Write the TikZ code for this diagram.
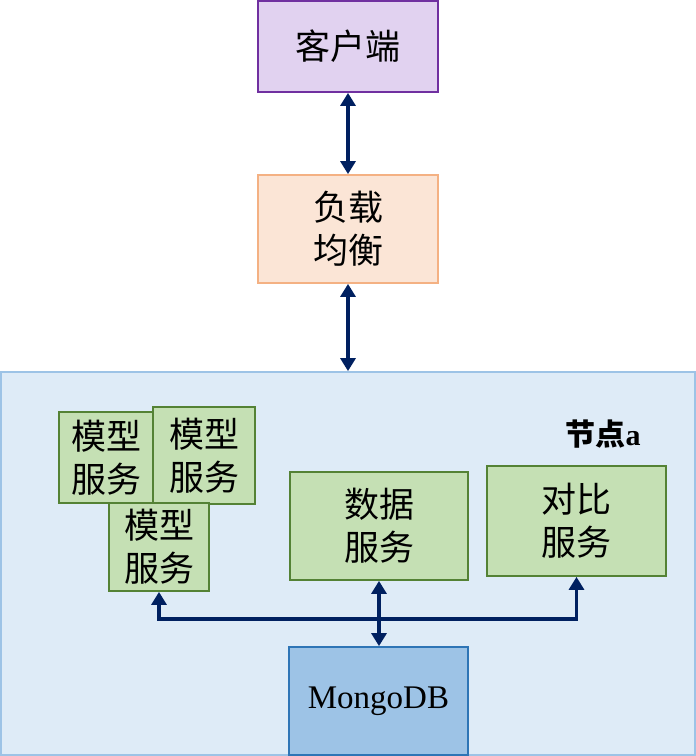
\documentclass[tikz,border=0pt]{standalone}
\usepackage{fontspec}
\setmainfont{Liberation Serif}
\newfontfamily\cjk{Noto Sans CJK SC}
\usetikzlibrary{arrows.meta}
\definecolor{clientfill}{HTML}{E1D2F0}
\definecolor{clientline}{HTML}{7030A0}
\definecolor{lbfill}{HTML}{FBE5D6}
\definecolor{lbline}{HTML}{F4B183}
\definecolor{nodefill}{HTML}{DEEBF7}
\definecolor{nodeline}{HTML}{9DC3E6}
\definecolor{svcfill}{HTML}{C5E0B4}
\definecolor{svcline}{HTML}{548235}
\definecolor{dbfill}{HTML}{9DC3E6}
\definecolor{dbline}{HTML}{2E75B6}
\definecolor{linkblue}{HTML}{002060}
\tikzset{
  box/.style={draw, line width=1.8pt, inner sep=0pt, align=center,
    font=\cjk\fontsize{35}{43}\selectfont},
  svcbox/.style={box, fill=svcfill, draw=svcline},
  link/.style={line width=3.6pt, draw=linkblue,
    {Triangle[width=15pt,length=13pt]}-{Triangle[width=15pt,length=13pt]}},
}
\begin{document}
\begin{tikzpicture}[x=1pt,y=-1pt]
\useasboundingbox (0,0) rectangle (696,756);
% node a container
\node [box, fill=nodefill, draw=nodeline, minimum width=694pt, minimum height=383pt] (nodea) at (348,563.5) {};
\node [font=\bfseries\fontsize{30}{34}\selectfont] (nodelabel) at (603,434) {{\cjk 节点}a};
% front
\node [box, fill=clientfill, draw=clientline, minimum width=180pt, minimum height=91pt] (client) at (348,46.5) {客户端};
\node [box, fill=lbfill, draw=lbline, minimum width=180pt, minimum height=108pt] (lb) at (348,229) {负载\\均衡};
% services
\node [svcbox, minimum width=94pt, minimum height=91pt] (model1) at (106,457.5) {模型\\服务};
\node [svcbox, minimum width=102pt, minimum height=97pt] (model2) at (204,455.5) {模型\\服务};
\node [svcbox, minimum width=100pt, minimum height=88pt] (model3) at (159,547) {模型\\服务};
\node [svcbox, minimum width=178pt, minimum height=108pt] (data) at (379,526) {数据\\服务};
\node [svcbox, minimum width=179pt, minimum height=110pt] (compare) at (576.5,521) {对比\\服务};
\node [box, fill=dbfill, draw=dbline, minimum width=179pt, minimum height=108pt,
  font=\fontsize{33}{38}\selectfont] (mongo) at (378.5,701) {MongoDB};
% links
\coordinate (bus) at (0,619);
\draw [link] (client) -- (lb);
\draw [link] (lb) -- (lb.south |- nodea.north);
\draw [link] (model3.south) -- (model3.south |- bus) -| (compare.south);
\draw [link] (data.south) -- (data.south |- mongo.north);
\end{tikzpicture}
\end{document}
